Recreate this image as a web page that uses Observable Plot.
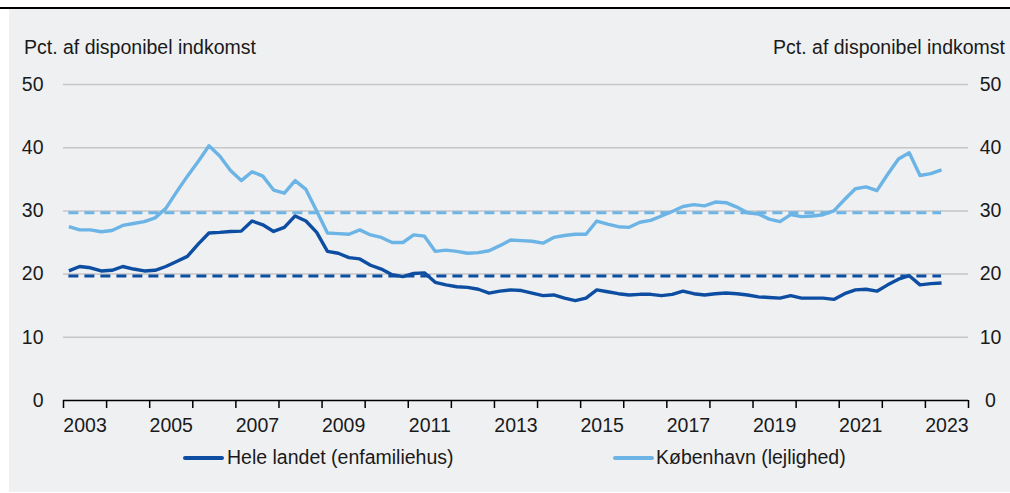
<!DOCTYPE html>
<html><head><meta charset="utf-8">
<script src="https://cdn.jsdelivr.net/npm/d3@7"></script>
<script src="https://cdn.jsdelivr.net/npm/@observablehq/plot@0.6"></script>
<style>
body{margin:0;background:#fff;font-family:"Liberation Sans",Arial,sans-serif;color:#1a1a1a;}
#wrap{position:relative;width:1010px;height:493px;overflow:hidden;}
#topline{position:absolute;left:0;top:7px;width:1010px;height:2px;background:#000;}
#bg{position:absolute;left:9px;top:9px;width:1001px;height:483px;background:#eff0f2;}
.t{position:absolute;font-size:19.5px;line-height:19px;white-space:nowrap;}
#chart{position:absolute;left:0;top:60px;}
.sw{position:absolute;height:4px;border-radius:2px;}
</style></head>
<body>
<div id="wrap">
  <div id="topline"></div>
  <div id="bg"></div>
  <div class="t" style="left:24px;top:38px">Pct. af disponibel indkomst</div>
  <div class="t" style="right:5px;top:38px">Pct. af disponibel indkomst</div>
  <div id="chart"></div>
  <div id="legend"></div>
</div>
<script>
// ---- data ----
const startYear = 2003;            // first quarter: 2003 K1
const seriesNames = ["Hele landet (enfamiliehus)", "København (lejlighed)"];
const seriesColors = ["#0d4ea3", "#6cb4e5"];
const heleLandet = [
  20.5, 21.2, 21.0, 20.5, 20.6, 21.2, 20.8, 20.5, 20.6, 21.2, 22.0, 22.8, 24.75, 26.5, 26.6, 26.75, 26.8, 28.4, 27.8, 26.75, 27.4, 29.2,
  28.4, 26.6, 23.6, 23.3, 22.6, 22.4, 21.4, 20.8, 19.9, 19.6, 20.1, 20.2, 18.7, 18.3, 18.0, 17.9, 17.6, 17.0, 17.3, 17.5, 17.4,
  17.0, 16.6, 16.7, 16.2, 15.8, 16.2, 17.5, 17.2, 16.9, 16.7, 16.8, 16.8, 16.6, 16.8, 17.3, 16.9, 16.7, 16.9, 17.0, 16.9,
  16.7, 16.4, 16.3, 16.2, 16.6, 16.2, 16.2, 16.2, 16.0, 16.9, 17.5, 17.6, 17.3, 18.3, 19.2, 19.75, 18.3, 18.5, 18.6
];
const koebenhavn = [
  27.5, 27.0, 27.0, 26.7, 26.9, 27.7, 28.0, 28.3, 28.9, 30.4, 33.0, 35.5, 37.8, 40.3, 38.7, 36.4, 34.8, 36.2, 35.5, 33.3, 32.8, 34.8,
  33.4, 30.0, 26.5, 26.4, 26.3, 27.0, 26.2, 25.8, 25.0, 25.0, 26.2, 26.0, 23.6, 23.8, 23.6, 23.3, 23.4, 23.7, 24.5, 25.4, 25.3,
  25.2, 24.9, 25.8, 26.1, 26.3, 26.3, 28.4, 27.9, 27.5, 27.4, 28.2, 28.5, 29.2, 29.9, 30.7, 31.0, 30.8, 31.4, 31.3, 30.6,
  29.7, 29.5, 28.7, 28.3, 29.4, 29.1, 29.2, 29.4, 30.0, 31.8, 33.5, 33.8, 33.2, 35.8, 38.2, 39.2, 35.6, 35.9, 36.5
];
const averages = [19.7, 29.7];     // dashed lines: long-run averages
const yTicks = [0, 10, 20, 30, 40, 50];
const yearTicks = d3.range(2003, 2025);
const yearLabels = [2003, 2005, 2007, 2009, 2011, 2013, 2015, 2017, 2019, 2021, 2023];

// ---- build ----
const toDate = i => startYear + Math.floor(i / 4) + ((i % 4) + 0.5) / 4;
const rows = [];
[heleLandet, koebenhavn].forEach((arr, s) => arr.forEach((v, i) => rows.push({date: toDate(i), v, s: seriesNames[s]})));
const firstX = toDate(0), lastX = toDate(heleLandet.length - 1);
const avgRows = averages.map((v, s) => ({v, s: seriesNames[s], x1: firstX, x2: lastX}));

const chart = Plot.plot({
  width: 1010, height: 390,
  marginTop: 24, marginBottom: 50, marginLeft: 63, marginRight: 42,
  style: {background: "transparent", fontFamily: "'Liberation Sans', Arial, sans-serif", fontSize: "19.5px", color: "#1a1a1a", overflow: "visible"},
  x: {domain: [2003, 2024]},
  y: {domain: [0, 50]},
  color: {domain: seriesNames, range: seriesColors},
  marks: [
    Plot.gridY(yTicks.filter(d => d > 0), {stroke: "#c6c6c6", strokeOpacity: 1, strokeWidth: 1.5}),
    Plot.axisY(yTicks, {anchor: "left", tickSize: 0, tickPadding: 20, label: null}),
    Plot.axisY(yTicks, {anchor: "right", tickSize: 0, tickPadding: 22, textAnchor: "middle", label: null}),
    Plot.axisX(yearTicks, {tickSize: 8, tickFormat: () => "", stroke: "#000", strokeWidth: 1.5, label: null}),
    Plot.axisX(yearLabels.map(d => d + 0.5), {tickSize: 0, tickPadding: 18, tickFormat: d => String(Math.floor(d)), label: null}),
    Plot.ruleY([0], {stroke: "#000", strokeWidth: 1.5}),
    Plot.ruleY(avgRows, {y: "v", x1: "x1", x2: "x2", stroke: "s", strokeWidth: 3, strokeDasharray: "10,6"}),
    Plot.line(rows, {x: "date", y: "v", z: "s", stroke: "s", strokeWidth: 3.4, strokeLinejoin: "round", strokeLinecap: "butt"})
  ]
});
document.getElementById("chart").appendChild(chart);

// legend
const legend = document.getElementById("legend");
const legPos = [{sw: 183, tx: 227}, {sw: 613, tx: 656}];
seriesNames.forEach((name, i) => {
  const sw = document.createElement("div");
  sw.className = "sw";
  sw.style.cssText = `left:${legPos[i].sw}px;top:456px;width:41px;background:${seriesColors[i]}`;
  legend.appendChild(sw);
  const t = document.createElement("div");
  t.className = "t";
  t.style.cssText = `left:${legPos[i].tx}px;top:448px`;
  t.textContent = name;
  legend.appendChild(t);
});
</script>
</body></html>
